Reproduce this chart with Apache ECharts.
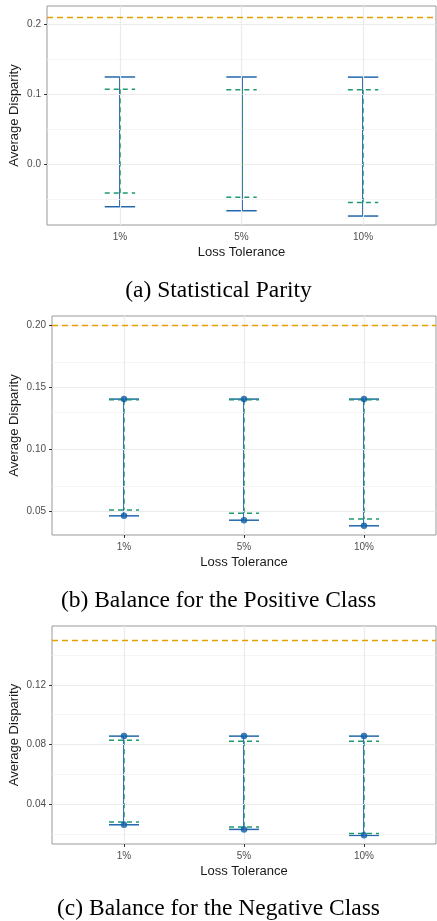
<!DOCTYPE html>
<html>
<head>
<meta charset="utf-8">
<script src="https://cdn.jsdelivr.net/npm/echarts@6/dist/echarts.min.js"></script>
<style>
  html, body { margin: 0; padding: 0; background: #fff; }
  #chart { width: 437px; height: 921px; }
</style>
</head>
<body>
<div id="chart"></div>
<script>
// Loss tolerance levels on the x axis
const categories = ['1%', '5%', '10%'];
const xPositions = [1, 2, 3];

// (a) Statistical Parity
const spBoundHigh = [0.1243, 0.1243, 0.1241];
const spBoundLow = [-0.0610, -0.0667, -0.0743];
const spDashHigh = [0.1067, 0.1062, 0.1060];
const spDashLow = [-0.0414, -0.0476, -0.0548];
const spBaseline = 0.211;
const spTicks = [0.0, 0.1, 0.2];
const spMinorTicks = [-0.05, 0.05, 0.15];

// (b) Balance for the Positive Class
const bpBoundHigh = [0.1404, 0.1404, 0.1404];
const bpBoundLow = [0.0465, 0.0430, 0.0385];
const bpDashHigh = [0.1399, 0.1399, 0.1399];
const bpDashLow = [0.0513, 0.0486, 0.0439];
const bpBaseline = 0.1986;
const bpTicks = [0.05, 0.10, 0.15, 0.20];
const bpMinorTicks = [0.075, 0.125, 0.175];

// (c) Balance for the Negative Class
const bnBoundHigh = [0.0856, 0.0856, 0.0856];
const bnBoundLow = [0.0261, 0.0230, 0.0190];
const bnDashHigh = [0.0829, 0.0822, 0.0822];
const bnDashLow = [0.0279, 0.0246, 0.0203];
const bnBaseline = 0.1528;
const bnTicks = [0.04, 0.08, 0.12];
const bnMinorTicks = [0.02, 0.06, 0.10, 0.14];

const BLUE = '#2267ad';
const POINT = '#0b5ca6';
const GREEN = '#1f9a6e';
const ORANGE = '#E69F00';
const SANS = '"Liberation Sans", Arial, sans-serif';
const SERIF = '"Liberation Serif", "Times New Roman", serif';

const panels = [
  { top: 6, left: 47, height: 219, min: -0.0871, max: 0.2257, digits: 1,
    ticks: spTicks, minor: spMinorTicks, hi: spBoundHigh, lo: spBoundLow,
    dhi: spDashHigh, dlo: spDashLow, base: spBaseline, points: false,
    nameGap: 26, caption: '(a) Statistical Parity', captionY: 292 },
  { top: 316, left: 52, height: 219, min: 0.0311, max: 0.2072, digits: 2,
    ticks: bpTicks, minor: bpMinorTicks, hi: bpBoundHigh, lo: bpBoundLow,
    dhi: bpDashHigh, dlo: bpDashLow, base: bpBaseline, points: true,
    nameGap: 31, caption: '(b) Balance for the Positive Class', captionY: 602 },
  { top: 626, left: 52, height: 218, min: 0.0132, max: 0.1595, digits: 2,
    ticks: bnTicks, minor: bnMinorTicks, hi: bnBoundHigh, lo: bnBoundLow,
    dhi: bnDashHigh, dlo: bnDashLow, base: bnBaseline, points: true,
    nameGap: 31, caption: '(c) Balance for the Negative Class', captionY: 910 }
];

const CAP_HALF = 0.125;

// Error bar: vertical stem plus horizontal caps at both ends.
// stemShift moves the stem within the pixel grid so the two bars sit side by side.
function errorBar(color, dash, stemWidth, stemOpacity, stemShift) {
  return function (params, api) {
    const x = api.value(0), lo = api.value(1), hi = api.value(2);
    const top = api.coord([x, hi]), bot = api.coord([x, lo]);
    const tl = api.coord([x - CAP_HALF, hi]), tr = api.coord([x + CAP_HALF, hi]);
    const bl = api.coord([x - CAP_HALF, lo]), br = api.coord([x + CAP_HALF, lo]);
    const sx = Math.round(top[0]) + stemShift;
    const mk = (x1, y1, x2, y2, w, op) => ({
      type: 'line',
      shape: { x1, y1, x2, y2 },
      style: { stroke: color, lineWidth: w, lineDash: dash || null, opacity: op }
    });
    return { type: 'group', children: [
      mk(sx, top[1], sx, bot[1], stemWidth, stemOpacity),
      mk(tl[0], tl[1], tr[0], tr[1], 1.5, 1),
      mk(bl[0], bl[1], br[0], br[1], 1.5, 1)
    ] };
  };
}

const grid = [], xAxis = [], yAxis = [], series = [], graphic = [];

panels.forEach((p, i) => {
  grid.push({
    left: p.left, right: 1, top: p.top, height: p.height,
    containLabel: false, outerBoundsMode: 'none',
    show: true, borderColor: '#999', borderWidth: 1, backgroundColor: '#fff'
  });
  xAxis.push({
    gridIndex: i, type: 'value', min: 0.4, max: 3.6,
    name: 'Loss Tolerance', nameLocation: 'middle', nameGap: 21, nameMoveOverlap: false,
    nameTextStyle: { fontFamily: SANS, fontSize: 13, color: '#1a1a1a' },
    axisLine: { show: false },
    axisTick: { show: true, length: 3, customValues: xPositions, lineStyle: { color: '#333' } },
    axisLabel: { customValues: xPositions, margin: 7, fontFamily: SANS, fontSize: 10, color: '#4d4d4d',
      formatter: v => categories[Math.round(v) - 1] },
    splitLine: { show: false }
  });
  yAxis.push({
    gridIndex: i, type: 'value', min: p.min, max: p.max,
    name: 'Average Disparity', nameLocation: 'middle', nameGap: p.nameGap, nameMoveOverlap: false,
    nameTextStyle: { fontFamily: SANS, fontSize: 13, color: '#1a1a1a' },
    axisLine: { show: false },
    axisTick: { show: true, length: 3, customValues: p.ticks, lineStyle: { color: '#333' } },
    axisLabel: { customValues: p.ticks, margin: 6, fontFamily: SANS, fontSize: 10, color: '#4d4d4d',
      formatter: v => v.toFixed(p.digits) },
    splitLine: { show: false }
  });

  // Panel grid lines
  const gridLines = [];
  p.minor.forEach(v => gridLines.push({ yAxis: v, lineStyle: { color: '#f2f2f2', width: 0.8, type: 'solid' } }));
  p.ticks.forEach(v => gridLines.push({ yAxis: v, lineStyle: { color: '#ebebeb', width: 1.2, type: 'solid' } }));
  xPositions.forEach(v => gridLines.push({ xAxis: v, lineStyle: { color: '#ebebeb', width: 1.2, type: 'solid' } }));
  series.push({
    type: 'line', xAxisIndex: i, yAxisIndex: i, data: [], z: 1, silent: true,
    markLine: { silent: true, symbol: 'none', label: { show: false }, animation: false, data: gridLines }
  });

  // Reference level (dashed orange)
  series.push({
    type: 'line', xAxisIndex: i, yAxisIndex: i, data: [], z: 3, silent: true,
    markLine: { silent: true, symbol: 'none', label: { show: false }, animation: false,
      lineStyle: { color: ORANGE, width: 1.3, type: [6, 4] },
      data: [{ yAxis: p.base }] }
  });

  series.push({
    type: 'custom', xAxisIndex: i, yAxisIndex: i, z: 4, silent: true,
    renderItem: errorBar(BLUE, null, 2, 1, 0),
    data: xPositions.map((x, k) => [x, p.lo[k], p.hi[k]])
  });
  series.push({
    type: 'custom', xAxisIndex: i, yAxisIndex: i, z: 5, silent: true,
    renderItem: errorBar(GREEN, [5, 4], 1, 0.75, 0.5),
    data: xPositions.map((x, k) => [x, p.dlo[k], p.dhi[k]])
  });
  if (p.points) {
    series.push({
      type: 'scatter', xAxisIndex: i, yAxisIndex: i, z: 6, silent: true,
      symbolSize: 6.5, itemStyle: { color: POINT },
      data: xPositions.flatMap((x, k) => [[x, p.hi[k]], [x, p.lo[k]]])
    });
  }

  graphic.push({
    type: 'text', left: 'center', top: p.captionY - 13,
    style: { text: p.caption, font: '23.5px ' + SERIF, fill: '#000' }
  });
});

const chart = echarts.init(document.getElementById('chart'), null, { renderer: 'canvas' });
chart.setOption({
  animation: false,
  backgroundColor: '#fff',
  grid, xAxis, yAxis, series, graphic
});
</script>
</body>
</html>
